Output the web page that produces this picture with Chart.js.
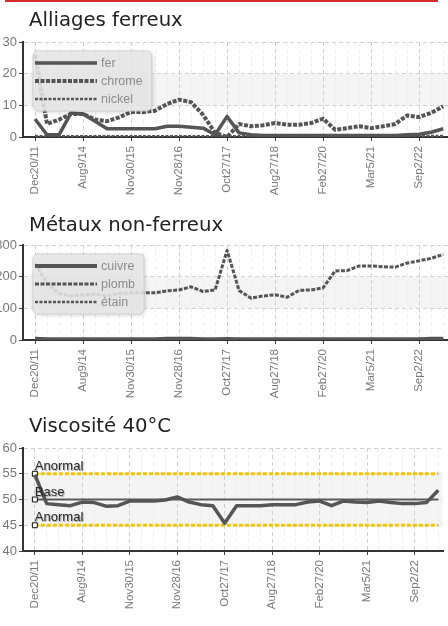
<!DOCTYPE html>
<html><head><meta charset="utf-8">
<script src="https://cdn.jsdelivr.net/npm/chart.js@4.4.1/dist/chart.umd.min.js"></script>
<style>
html,body{margin:0;padding:0;background:#fff;width:448px;height:626px;overflow:hidden;position:relative}
.redline{position:absolute;left:5px;top:0;width:433px;height:2px;background:#d42a2a}
.title{position:absolute;left:29px;font-family:'DejaVu Sans',sans-serif;font-size:19.7px;color:#222;line-height:1;white-space:nowrap;z-index:2}
.wrap{position:absolute;left:0;width:448px}
canvas{display:block}
</style></head><body>
<div class="redline"></div>
<div class="wrap" style="top:30px;height:180px"><canvas id="c1" width="448" height="180"></canvas></div>
<div class="wrap" style="top:233px;height:180px"><canvas id="c2" width="448" height="180"></canvas></div>
<div class="wrap" style="top:436px;height:190px"><canvas id="c3" width="448" height="190"></canvas></div>
<div class="title" style="top:10px">Alliages ferreux</div>
<div class="title" style="top:215px">Métaux non-ferreux</div>
<div class="title" style="top:416px">Viscosité 40°C</div>
<script>
// ---- data ----
const xLabels = ['Dec20/11','Aug9/14','Nov30/15','Nov28/16','Oct27/17','Aug27/18','Feb27/20','Mar5/21','Sep2/22'];
const labelStep = 4;

const fer    = [5.7,0.7,0.7,7.6,7.3,5.0,2.6,2.6,2.6,2.6,2.6,3.4,3.4,3.1,2.8,0.7,6.5,1.3,0.7,0.5,0.5,0.5,0.5,0.5,0.5,0.5,0.5,0.5,0.5,0.5,0.5,0.7,0.9,1.5,2.6];
const chrome = [26,4.1,5.5,7.3,7.3,5.5,5.0,6.2,7.9,7.9,8.3,10.4,11.8,11.0,7.0,1.3,0.0,4.1,3.4,3.7,4.4,3.9,3.9,4.4,5.8,2.3,2.8,3.4,2.8,3.4,4.1,6.8,6.3,7.6,9.7];
const nickel = [0.3,0.2,0.2,0.2,0.2,0.2,0.2,0.2,0.2,0.2,0.2,0.2,0.2,0.2,0.2,0.2,0.2,0.2,0.2,0.2,0.2,0.2,0.2,0.2,0.2,0.2,0.2,0.2,0.2,0.2,0.2,0.2,0.2,0.3,0.3];

const cuivre = [4,2,2,2,2,2,2,2,2,2,2,4,4,4,2,2,3,2,2,2,2,2,2,2,2,2,2,2,2,2,2,2,2,4,4];
const plomb  = [242,180,147,139,142,145,139,147,149,149,149,155,158,168,153,158,283,156,132,139,143,135,157,158,165,218,219,234,234,231,230,243,250,258,270];
const etain  = [1,1,1,1,1,1,1,1,1,1,1,1,1,1,1,1,1,1,1,1,1,1,1,1,1,1,1,1,1,1,1,1,1,1,1];

const viscosite = [54.8,49.2,49.0,48.8,49.5,49.4,48.7,48.8,49.7,49.7,49.7,49.9,50.5,49.5,49.0,48.8,45.4,48.8,48.8,48.8,49.0,49.0,49.0,49.5,49.7,48.8,49.7,49.5,49.4,49.7,49.4,49.2,49.2,49.4,51.8];
const limiteHaute = 55, valeurBase = 50, limiteBasse = 45;

const bands = { c1:[10,20], c2:[100,200], c3:[45,55] };

// ---- helpers ----
const lastIdx = viscosite.length - 1;
const toPts = arr => arr.map((v,i)=>({x:i,y:v}));
const flat = v => [{x:0,y:v},{x:lastIdx,y:v}];
const FONT = "'Liberation Sans', Arial, sans-serif";
const GREY = '#555';

function makeScales(ymin, ymax, ystep, xAxisH){
  return {
    x:{type:'linear', min:-1, max:lastIdx+0.4,
      afterFit:s=>{s.height=xAxisH; s.paddingLeft=0; s.paddingRight=0;},
      afterBuildTicks:s=>{const t=[];for(let i=-1;i<=lastIdx;i++)t.push({value:i});s.ticks=t;},
      ticks:{autoSkip:false,minRotation:90,maxRotation:90,padding:5,color:'#7a7a7a',
        font:{family:FONT,size:11.5},
        callback:v=>(v>=0 && v%labelStep===0)?(xLabels[v/labelStep]||''):''},
      grid:{lineWidth:1,tickLength:4,
        color:c=>{const v=c.tick?c.tick.value:0; if(v<0) return 'rgba(0,0,0,0)'; return v%labelStep===0?'#cfcfcf':'#ededed';},
        tickColor:c=>{const v=c.tick?c.tick.value:0; return (v>=0&&v%labelStep===0)?'#444':'rgba(0,0,0,0)';}},
      border:{color:'#333',width:2,dash:[4,3]}
    },
    y:{min:ymin,max:ymax,
      afterFit:s=>{s.width=23;},
      ticks:{stepSize:ystep,padding:2,color:'#777',font:{family:FONT,size:13}},
      grid:{lineWidth:1,tickLength:4,tickColor:'#444',
        color:c=>(c.tick&&c.tick.value===ymin)?'rgba(0,0,0,0)':'#d2d2d2'},
      border:{color:'#333',width:2,dash:[4,3]}
    }
  };
}

const bandPlugin = {id:'band', beforeDraw(chart,args,opts){
  if(!opts.range) return;
  const {ctx, chartArea:a, scales:{y}} = chart;
  const y1=y.getPixelForValue(opts.range[1]), y2=y.getPixelForValue(opts.range[0]);
  ctx.save(); ctx.fillStyle=opts.color||'#f4f4f4'; ctx.fillRect(a.left,y1,a.right-a.left,y2-y1); ctx.restore();
}};

const innerLegend = {id:'innerLegend', afterDatasetsDraw(chart,args,opts){
  if(!opts.show) return;
  const ctx=chart.ctx, a=chart.chartArea, ds=chart.data.datasets;
  ctx.save();
  ctx.font = '12.5px '+FONT;
  const tw = Math.max(...ds.map(d=>ctx.measureText(d.label).width));
  const x=a.left+10, y=a.top+9, sample=62, row=18;
  const w = 2+sample+4+tw+9, h = 12*2+row*(ds.length-1);
  ctx.shadowColor='rgba(0,0,0,0.22)'; ctx.shadowBlur=4; ctx.shadowOffsetX=1; ctx.shadowOffsetY=1;
  ctx.beginPath(); ctx.roundRect(x,y,w,h,5); ctx.fillStyle='rgba(234,234,234,0.86)'; ctx.fill();
  ctx.shadowColor='rgba(0,0,0,0)';
  ctx.strokeStyle='rgba(205,205,205,0.9)'; ctx.lineWidth=1; ctx.stroke();
  ds.forEach((d,i)=>{
    const cy=y+12+i*row;
    ctx.beginPath(); ctx.setLineDash(d.borderDash||[]); ctx.lineWidth=d.borderWidth; ctx.strokeStyle=d.borderColor;
    ctx.moveTo(x+2,cy); ctx.lineTo(x+2+sample,cy); ctx.stroke();
    ctx.setLineDash([]);
    ctx.fillStyle='#8c8c8c'; ctx.textBaseline='middle'; ctx.textAlign='left';
    ctx.fillText(d.label, x+2+sample+4, cy+0.5);
  });
  ctx.restore();
}};

const lineLabels = {id:'lineLabels', afterDatasetsDraw(chart){
  const ctx=chart.ctx;
  chart.data.datasets.forEach((d,i)=>{
    if(!d.tag) return;
    const p=chart.getDatasetMeta(i).data[0];
    ctx.save();
    ctx.font='13px '+FONT; ctx.fillStyle='#2a2a2a'; ctx.textAlign='left'; ctx.textBaseline='alphabetic';
    ctx.shadowColor='rgba(0,0,0,0.35)'; ctx.shadowBlur=1; ctx.shadowOffsetX=1; ctx.shadowOffsetY=1;
    ctx.fillText(d.label, p.x, p.y-4);
    ctx.restore();
  });
}};

Chart.register(bandPlugin, innerLegend, lineLabels);

function baseOpts(ymin,ymax,ystep,xh,band,legendShow){
  return {
    responsive:false, animation:false, devicePixelRatio:1,
    layout:{padding:{top:12,left:0,right:0,bottom:0}},
    elements:{line:{tension:0,borderJoinStyle:'round'},point:{radius:0}},
    plugins:{legend:{display:false},tooltip:{enabled:false},
      band:{range:band,color:'#f4f4f4'}, innerLegend:{show:legendShow}},
    scales:makeScales(ymin,ymax,ystep,xh)
  };
}

new Chart(document.getElementById('c1'),{
  type:'line',
  data:{datasets:[
    {label:'fer',data:toPts(fer),borderColor:GREY,borderWidth:3.5},
    {label:'chrome',data:toPts(chrome),borderColor:GREY,borderWidth:4,borderDash:[4,1.5]},
    {label:'nickel',data:toPts(nickel),borderColor:GREY,borderWidth:2.5,borderDash:[3,1.5]}
  ]},
  options:baseOpts(0,30,10,73,bands.c1,true)
});

new Chart(document.getElementById('c2'),{
  type:'line',
  data:{datasets:[
    {label:'cuivre',data:toPts(cuivre),borderColor:GREY,borderWidth:4},
    {label:'plomb',data:toPts(plomb),borderColor:GREY,borderWidth:3,borderDash:[4,1.5]},
    {label:'étain',data:toPts(etain),borderColor:GREY,borderWidth:2.5,borderDash:[3,1.5]}
  ]},
  options:baseOpts(0,300,100,73,bands.c2,true)
});

const markerOpts = {pointStyle:'rect',pointBackgroundColor:'#fff',pointBorderColor:'#111',pointBorderWidth:1,
  pointRadius:c=>c.dataIndex===0?3.5:0};
new Chart(document.getElementById('c3'),{
  type:'line',
  data:{datasets:[
    {label:'Viscosité 40°C',data:toPts(viscosite),borderColor:GREY,borderWidth:3.5},
    Object.assign({label:'Anormal',tag:true,data:flat(limiteHaute),borderColor:'#f5c400',borderWidth:3,borderDash:[4,2]},markerOpts),
    Object.assign({label:'Base',tag:true,data:flat(valeurBase),borderColor:'#5a5a5a',borderWidth:2},markerOpts),
    Object.assign({label:'Anormal',tag:true,data:flat(limiteBasse),borderColor:'#f5c400',borderWidth:3,borderDash:[4,2]},markerOpts)
  ]},
  options:baseOpts(40,60,5,75,bands.c3,false)
});
</script>
</body></html>
